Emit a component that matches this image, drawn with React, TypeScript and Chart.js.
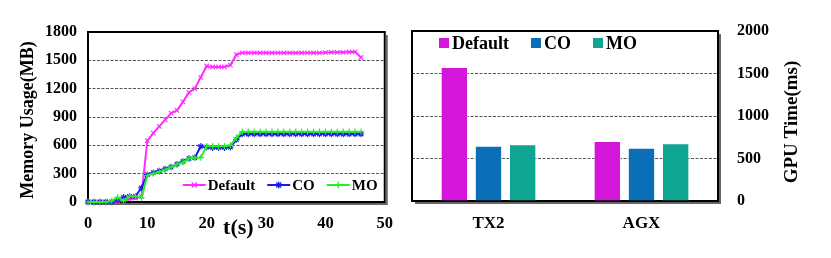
import React, { useEffect, useRef } from "react";
import { Chart, registerables } from "chart.js";
Chart.register(...registerables);

// ---------- Left chart data (memory usage over time) ----------
const timeSec = [0, 1, 2, 3, 4, 5, 6, 7, 8, 9, 10, 11, 12, 13, 14, 15, 16, 17, 18, 19, 20, 21, 22, 23, 24, 25, 26, 27, 28, 29, 30, 31, 32, 33, 34, 35, 36, 37, 38, 39, 40, 41, 42, 43, 44, 45, 46];
const defaultMem = [0, 0, 0, 0, 0, 10, 20, 30, 40, 60, 650, 730, 800, 870, 940, 970, 1060, 1160, 1200, 1320, 1440, 1430, 1430, 1430, 1450, 1560, 1580, 1580, 1580, 1580, 1580, 1580, 1580, 1580, 1580, 1580, 1580, 1580, 1580, 1580, 1582, 1585, 1585, 1585, 1588, 1590, 1530];
const coMem = [0, 0, 0, 0, 0, 25, 50, 60, 60, 150, 290, 310, 330, 350, 370, 400, 430, 460, 470, 590, 580, 575, 575, 575, 580, 660, 720, 720, 720, 720, 720, 720, 720, 720, 720, 720, 720, 720, 720, 720, 720, 720, 720, 720, 720, 720, 720];
const moMem = [0, 0, 0, 0, 10, 50, 15, 60, 60, 45, 280, 300, 320, 340, 370, 400, 420, 460, 470, 470, 590, 590, 590, 590, 600, 680, 745, 745, 745, 745, 745, 745, 745, 745, 745, 745, 745, 745, 745, 745, 745, 745, 745, 745, 745, 745, 745];
const memTicks = [0, 300, 600, 900, 1200, 1500, 1800];
const timeTicks = [0, 10, 20, 30, 40, 50];
const lineLabels = ["Default", "CO", "MO"];

// ---------- Right chart data (GPU time) ----------
const devices = ["TX2", "AGX"];
const gpuDefault = [1576, 706];
const gpuCO = [650, 627];
const gpuMO = [667, 678];
const gpuTicks = [0, 500, 1000, 1500, 2000];
const barLabels = ["Default", "CO", "MO"];

const FONT = "'Liberation Serif', 'Times New Roman', serif";
const LINE_COLORS = ["#FF2BFF", "#1A1AF0", "#22F022"];
const MARKERS = ["crossRot", "star", "cross"];
const BAR_COLORS = ["#D416DA", "#0B6FB8", "#0EA592"];

function drawMarker(ctx: CanvasRenderingContext2D, style: string, x: number, y: number, r: number) {
  ctx.beginPath();
  if (style === "cross" || style === "star") {
    ctx.moveTo(x - r, y); ctx.lineTo(x + r, y);
    ctx.moveTo(x, y - r); ctx.lineTo(x, y + r);
  }
  if (style === "crossRot" || style === "star") {
    const d = r * 0.72;
    ctx.moveTo(x - d, y - d); ctx.lineTo(x + d, y + d);
    ctx.moveTo(x - d, y + d); ctx.lineTo(x + d, y - d);
  }
  ctx.stroke();
}

const framePlugin = {
  id: "frame",
  beforeDatasetsDraw(chart: any) {
    const { ctx, chartArea } = chart;
    const { left, top, right, bottom } = chartArea;
    ctx.save();
    ctx.strokeStyle = "#000";
    ctx.lineWidth = 2;
    ctx.strokeRect(left, top, right - left, bottom - top);
    ctx.strokeStyle = "#666";
    ctx.lineWidth = 2;
    ctx.beginPath();
    ctx.moveTo(right + 2, top + 3);
    ctx.lineTo(right + 2, bottom + 2);
    ctx.lineTo(left + 3, bottom + 2);
    ctx.stroke();
    ctx.restore();
  },
};

const leftDecor = {
  id: "leftDecor",
  afterDraw(chart: any) {
    const { ctx, chartArea } = chart;
    ctx.save();
    ctx.fillStyle = "#000";
    // y title
    ctx.font = `bold 18px ${FONT}`;
    ctx.textAlign = "center";
    ctx.textBaseline = "middle";
    ctx.translate(28, (chartArea.top + chartArea.bottom) / 2 + 3);
    ctx.rotate(-Math.PI / 2);
    ctx.fillText("Memory Usage(MB)", 0, 0);
    ctx.restore();
    // x title
    ctx.save();
    ctx.font = `bold 22px ${FONT}`;
    ctx.textAlign = "center";
    ctx.textBaseline = "middle";
    ctx.fillStyle = "#000";
    ctx.fillText("t(s)", (chartArea.left + chartArea.right) / 2 + 2, 228);
    ctx.restore();
    // legend
    ctx.save();
    ctx.font = `bold 15px ${FONT}`;
    ctx.textBaseline = "middle";
    ctx.textAlign = "left";
    let x = chartArea.right - 202;
    const y = chartArea.bottom - 17;
    lineLabels.forEach((lab, i) => {
      ctx.strokeStyle = LINE_COLORS[i];
      ctx.lineWidth = 2;
      ctx.beginPath();
      ctx.moveTo(x, y); ctx.lineTo(x + 23, y);
      ctx.stroke();
      ctx.lineWidth = 1.2;
      drawMarker(ctx, MARKERS[i], x + 11.5, y, 3.5);
      ctx.fillStyle = "#000";
      ctx.fillText(lab, x + 25, y + 1);
      x += 25 + ctx.measureText(lab).width + 12;
    });
    ctx.restore();
  },
};

const rightDecor = {
  id: "rightDecor",
  afterDraw(chart: any) {
    const { ctx, chartArea, width } = chart;
    ctx.save();
    ctx.fillStyle = "#000";
    ctx.font = `bold 19px ${FONT}`;
    ctx.textAlign = "center";
    ctx.textBaseline = "middle";
    ctx.translate(width - 39, (chartArea.top + chartArea.bottom) / 2 + 6);
    ctx.rotate(-Math.PI / 2);
    ctx.fillText("GPU Time(ms)", 0, 0);
    ctx.restore();
    // legend
    ctx.save();
    ctx.font = `bold 18px ${FONT}`;
    ctx.textBaseline = "middle";
    ctx.textAlign = "left";
    let x = chartArea.left + 27;
    const y = chartArea.top + 12;
    barLabels.forEach((lab, i) => {
      ctx.fillStyle = BAR_COLORS[i];
      ctx.fillRect(x, y - 5, 10, 10);
      ctx.fillStyle = "#000";
      ctx.fillText(lab, x + 13, y + 1);
      x += 13 + ctx.measureText(lab).width + 22;
    });
    ctx.restore();
  },
};

function LeftChart() {
  const ref = useRef<HTMLCanvasElement>(null);
  useEffect(() => {
    if (!ref.current) return;
    const datasets = [defaultMem, coMem, moMem].map((vals, i) => ({
      label: lineLabels[i],
      data: vals.map((v, k) => ({ x: timeSec[k], y: v })),
      borderColor: LINE_COLORS[i],
      backgroundColor: LINE_COLORS[i],
      borderWidth: 2,
      pointStyle: MARKERS[i] as any,
      pointRadius: 3.2,
      pointBorderWidth: 1.1,
      pointBorderColor: LINE_COLORS[i],
      tension: 0,
      clip: false as any,
      order: 3 - i,
    }));
    const chart = new Chart(ref.current, {
      type: "line",
      data: { datasets },
      options: {
        animation: false,
        responsive: false,
        devicePixelRatio: 1,
        layout: { padding: { top: 32, right: 13, left: 0, bottom: 0 } },
        plugins: { legend: { display: false }, tooltip: { enabled: false } },
        scales: {
          x: {
            type: "linear",
            min: 0,
            max: 50,
            afterBuildTicks: (s: any) => { s.ticks = timeTicks.map((v) => ({ value: v })); },
            afterFit: (s: any) => { s.height = 56; },
            grid: { display: false, drawTicks: false },
            border: { display: false },
            ticks: { font: { family: FONT, size: 16.5, weight: "bold" }, color: "#000", padding: 12, maxRotation: 0, callback: (v: any) => String(v) },
          },
          y: {
            min: 0,
            max: 1800,
            afterBuildTicks: (s: any) => { s.ticks = memTicks.map((v) => ({ value: v })); },
            afterFit: (s: any) => { s.width = 88; },
            grid: {
              drawTicks: false,
              color: (c: any) => (c.tick && (c.tick.value === 0 || c.tick.value === 1800) ? "rgba(0,0,0,0)" : "#555"),
              lineWidth: 1,
            },
            border: { display: false, dash: [3, 1.5] },
            ticks: { font: { family: FONT, size: 16, weight: "bold" }, color: "#000", padding: 11, callback: (v: any) => String(v) },
          },
        },
      },
      plugins: [framePlugin, leftDecor],
    });
    return () => chart.destroy();
  }, []);
  return <canvas ref={ref} width={405} height={258} style={{ position: "absolute", left: 0, top: 0, width: 405, height: 258 }} />;
}

function RightChart() {
  const ref = useRef<HTMLCanvasElement>(null);
  useEffect(() => {
    if (!ref.current) return;
    const chart = new Chart(ref.current, {
      type: "bar",
      data: {
        labels: devices,
        datasets: [gpuDefault, gpuCO, gpuMO].map((vals, i) => ({
          label: barLabels[i],
          data: vals,
          backgroundColor: BAR_COLORS[i],
          borderColor: "rgba(255,255,255,0.6)",
          borderWidth: 1,
          categoryPercentage: 0.67,
          barPercentage: 0.8,
        })),
      },
      options: {
        animation: false,
        responsive: false,
        devicePixelRatio: 1,
        layout: { padding: { top: 31, right: 0, left: 7, bottom: 0 } },
        plugins: { legend: { display: false }, tooltip: { enabled: false } },
        scales: {
          x: {
            afterFit: (s: any) => { s.height = 57; },
            grid: { display: false, drawTicks: false },
            border: { display: false },
            ticks: { font: { family: FONT, size: 17, weight: "bold" }, color: "#000", padding: 12 },
          },
          y: {
            position: "right",
            min: 0,
            max: 2000,
            afterBuildTicks: (s: any) => { s.ticks = gpuTicks.map((v) => ({ value: v })); },
            afterFit: (s: any) => { s.width = 113; },
            grid: {
              drawTicks: false,
              color: (c: any) => (c.tick && (c.tick.value === 0 || c.tick.value === 2000) ? "rgba(0,0,0,0)" : "#555"),
              lineWidth: 1,
            },
            border: { display: false, dash: [3, 1.5] },
            ticks: { font: { family: FONT, size: 16, weight: "bold" }, color: "#000", padding: 19, callback: (v: any) => String(v) },
          },
        },
      },
      plugins: [framePlugin, rightDecor],
    });
    return () => chart.destroy();
  }, []);
  return <canvas ref={ref} width={426} height={258} style={{ position: "absolute", left: 405, top: 0, width: 426, height: 258 }} />;
}

export default function App() {
  return (
    <div style={{ position: "fixed", left: 0, top: 0, width: 831, height: 258, background: "#fff", overflow: "hidden" }}>
      <LeftChart />
      <RightChart />
    </div>
  );
}
